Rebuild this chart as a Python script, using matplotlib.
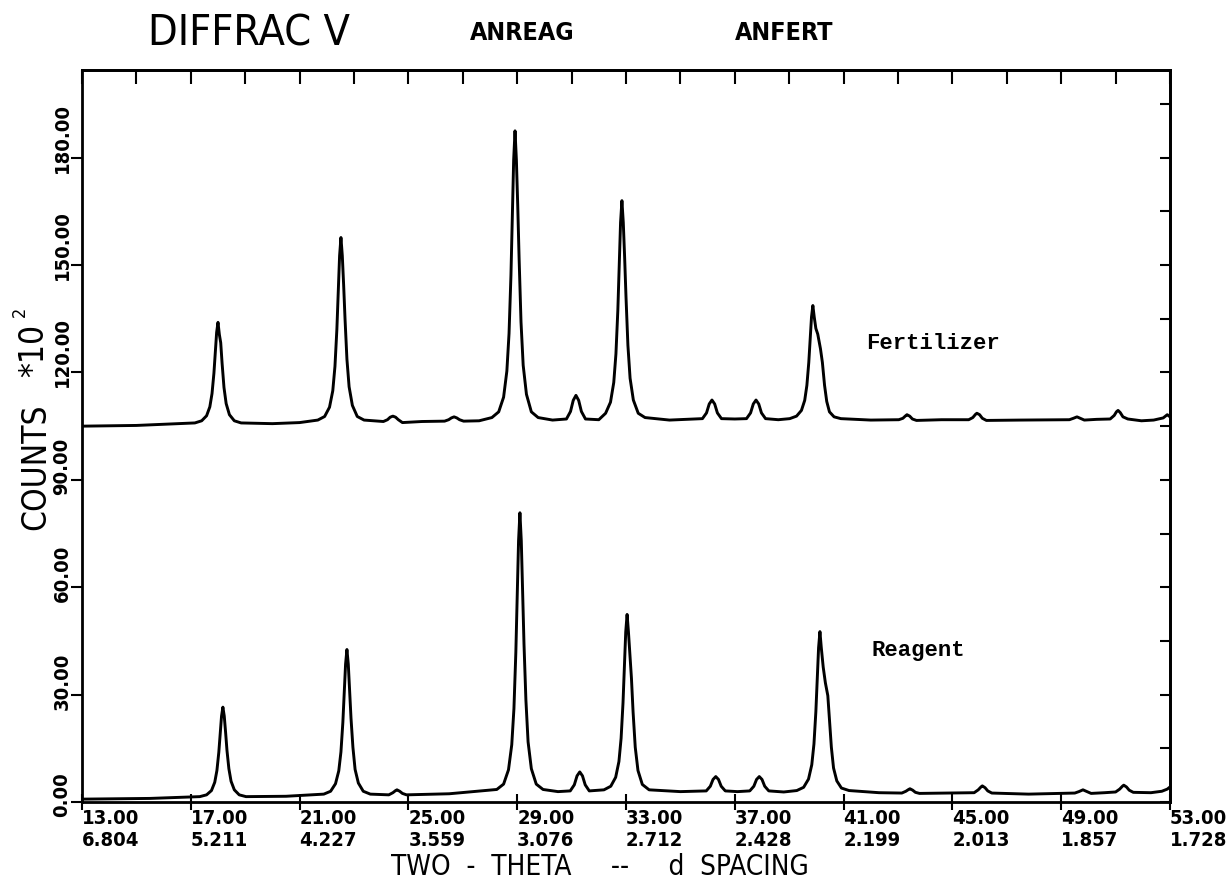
import matplotlib
matplotlib.use("Agg")
import matplotlib.pyplot as plt
from matplotlib import font_manager as fm
from matplotlib.transforms import ScaledTranslation, blended_transform_factory

# ---------------- data (counts in units of 10^2) ----------------
fert_two_theta = [
    13.0, 15.0, 17.15, 17.4, 17.58, 17.7, 17.78, 17.85, 17.9, 17.95, 18.0, 18.05, 18.1, 18.15, 18.22,
    18.3, 18.42, 18.6, 18.85, 20.0, 21.0, 21.67, 21.92, 22.1, 22.22, 22.3, 22.37, 22.42, 22.47, 22.52,
    22.57, 22.62, 22.67, 22.74, 22.82, 22.94, 23.12, 23.37, 24.08, 24.23, 24.33, 24.43, 24.53, 24.63,
    24.78, 25.5, 26.33, 26.48, 26.58, 26.68, 26.78, 26.88, 27.03, 27.6, 28.07, 28.32, 28.5, 28.62,
    28.7, 28.77, 28.82, 28.87, 28.92, 28.97, 29.02, 29.07, 29.14, 29.22, 29.34, 29.52, 29.77, 30.3,
    30.81, 30.96, 31.06, 31.16, 31.26, 31.36, 31.51, 32.0, 32.25, 32.43, 32.55, 32.63, 32.7, 32.75,
    32.8, 32.85, 32.9, 32.95, 33.0, 33.07, 33.15, 33.27, 33.45, 33.7, 34.6, 35.81, 35.96, 36.06,
    36.16, 36.26, 36.36, 36.51, 37.0, 37.43, 37.58, 37.68, 37.78, 37.88, 37.98, 38.13, 38.6, 39.02,
    39.27, 39.45, 39.57, 39.65, 39.72, 39.77, 39.82, 39.87, 39.92, 39.98, 40.05, 40.15, 40.22, 40.3,
    40.38, 40.48, 40.65, 40.9, 42.0, 43.03, 43.18, 43.28, 43.33, 43.43, 43.53, 43.68, 44.6, 45.6,
    45.75, 45.85, 45.9, 46.0, 46.1, 46.25, 47.5, 49.3, 49.45, 49.58, 49.7, 49.85, 50.3, 50.8, 50.95,
    51.03, 51.09, 51.17, 51.27, 51.45, 51.95, 52.4, 52.75, 52.9, 53.0]
fert_counts = [
    105.0, 105.2, 105.9, 106.5, 107.9, 110.4, 114.1, 119.8, 125.5, 131.2, 134.0, 130.6, 128.3, 122.6, 115.8,
    111.3, 108.2, 106.5, 105.9, 105.7, 106.0, 106.7, 107.7, 110.3, 114.9, 121.7, 132.0, 142.3, 152.6, 157.7,
    152.6, 144.3, 135.0, 123.7, 116.0, 110.8, 107.7, 106.7, 106.3, 106.8, 107.5, 107.8, 107.5, 106.8,
    106.0, 106.3, 106.4, 106.8, 107.3, 107.6, 107.3, 106.8, 106.4, 106.5, 107.4, 109.0, 113.1, 120.4,
    130.9, 147.1, 163.2, 179.4, 187.5, 179.4, 166.5, 151.9, 134.1, 122.0, 113.9, 109.0, 107.4, 106.7,
    107.0, 109.1, 112.2, 113.6, 112.2, 109.1, 107.0, 106.8, 108.6, 111.7, 117.2, 125.2, 137.4, 149.6,
    161.9, 168.0, 161.9, 152.1, 141.1, 127.6, 118.4, 112.3, 108.6, 107.4, 106.7, 107.1, 108.7, 111.2,
    112.3, 111.2, 108.7, 107.1, 107.0, 107.1, 108.7, 111.2, 112.3, 111.2, 108.7, 107.1, 106.8, 107.1,
    107.8, 109.4, 112.2, 116.4, 122.8, 129.1, 135.5, 138.7, 135.5, 132.3, 130.7, 126.6, 122.8, 116.4,
    111.9, 109.0, 107.6, 107.1, 106.7, 106.8, 107.2, 107.9, 108.2, 107.8, 107.0, 106.6, 106.8, 106.8,
    107.4, 108.3, 108.6, 108.2, 107.2, 106.6, 106.7, 106.8, 107.2, 107.6, 107.2, 106.7, 106.9, 107.0, 108.0,
    109.0, 109.4, 108.8, 107.6, 107.0, 106.5, 106.7, 107.3, 108.2, 107.6]

reag_two_theta = [
    13.0, 15.5, 17.33, 17.58, 17.76, 17.88, 17.96, 18.03, 18.08, 18.13, 18.18, 18.23, 18.28, 18.33, 18.4,
    18.48, 18.6, 18.78, 19.03, 20.5, 21.89, 22.14, 22.32, 22.44, 22.52, 22.59, 22.64, 22.69, 22.74, 22.79,
    22.84, 22.89, 22.96, 23.04, 23.16, 23.34, 23.6, 24.28, 24.43, 24.53, 24.58, 24.68, 24.78, 24.93,
    26.5, 28.25, 28.5, 28.68, 28.8, 28.88, 28.95, 29.0, 29.05, 29.1, 29.15, 29.2, 29.25, 29.32, 29.4,
    29.52, 29.7, 29.95, 30.5, 30.95, 31.1, 31.2, 31.3, 31.4, 31.5, 31.65, 32.19, 32.44, 32.62, 32.74,
    32.82, 32.89, 32.94, 32.99, 33.04, 33.09, 33.14, 33.2, 33.26, 33.34, 33.44, 33.6, 33.85, 35.0,
    35.95, 36.1, 36.2, 36.3, 36.4, 36.5, 36.65, 37.1, 37.55, 37.7, 37.8, 37.9, 38.0, 38.1, 38.25, 38.8,
    39.28, 39.53, 39.71, 39.83, 39.91, 39.98, 40.03, 40.08, 40.13, 40.18, 40.25, 40.33, 40.42, 40.48,
    40.55, 40.63, 40.75, 40.92, 41.2, 42.3, 43.14, 43.29, 43.39, 43.44, 43.54, 43.64, 43.79, 44.8,
    45.8, 45.95, 46.05, 46.1, 46.2, 46.3, 46.45, 47.8, 49.5, 49.65, 49.8, 49.95, 50.1, 50.6, 51.0,
    51.15, 51.25, 51.3, 51.4, 51.5, 51.65, 52.3, 52.7, 52.9, 53.0]
reag_counts = [
    0.8, 1.0, 1.5, 2.0, 3.2, 5.5, 8.8, 13.9, 18.9, 24.0, 26.5, 24.0, 19.4, 14.4, 9.3,
    5.8, 3.4, 2.0, 1.5, 1.6, 2.2, 3.0, 5.1, 8.7, 14.0, 22.2, 30.4, 38.5, 42.6, 38.5,
    31.2, 23.4, 15.3, 9.1, 5.3, 3.0, 2.2, 2.0, 2.6, 3.2, 3.4, 3.0, 2.4, 2.0,
    2.3, 3.5, 5.0, 9.0, 16.0, 26.1, 41.8, 57.4, 73.0, 80.8, 73.0, 58.9, 44.1, 28.5, 16.8,
    9.3, 5.0, 3.5, 2.9, 3.1, 4.8, 7.3, 8.4, 7.3, 4.8, 3.1, 3.4, 4.4, 6.9, 11.3,
    17.8, 27.7, 37.6, 47.5, 52.4, 47.5, 41.5, 34.6, 25.2, 15.3, 8.8, 4.9, 3.4, 2.9,
    3.1, 4.4, 6.3, 7.1, 6.3, 4.4, 3.1, 2.9, 3.1, 4.4, 6.3, 7.1, 6.3, 4.4, 3.1, 2.8,
    3.2, 4.1, 6.4, 10.4, 16.2, 25.2, 34.2, 43.1, 47.6, 43.1, 37.7, 33.3, 29.7, 23.0,
    15.3, 9.5, 5.9, 3.9, 3.2, 2.6, 2.5, 3.0, 3.5, 3.7, 3.3, 2.7, 2.4, 2.5,
    2.6, 3.4, 4.2, 4.5, 4.0, 3.1, 2.5, 2.2, 2.5, 2.9, 3.4, 2.9, 2.4, 2.6, 2.8,
    3.6, 4.4, 4.7, 4.2, 3.3, 2.7, 2.6, 3.0, 3.6, 4.2]

two_theta_ticks = [13, 17, 21, 25, 29, 33, 37, 41, 45, 49, 53]
d_spacing_labels = ["6.804", "5.211", "4.227", "3.559", "3.076", "2.712",
                    "2.428", "2.199", "2.013", "1.857", "1.728"]
top_ticks = [13, 15, 17, 19, 21, 23, 25, 27, 29, 31, 33, 35, 37, 39, 41, 43, 45, 47, 49, 51, 53]
count_ticks = [0, 30, 60, 90, 120, 150, 180]
right_ticks = [0, 15, 30, 45, 60, 75, 90, 105, 120, 135, 150, 165, 180, 195]

# ---------------- fonts ----------------
names = {f.name for f in fm.fontManager.ttflist}
if "Liberation Sans Narrow" in names:
    NARROW = dict(family="Liberation Sans Narrow")
else:
    NARROW = dict(family="DejaVu Sans", stretch="condensed")
MONO = dict(family="Liberation Mono")

W, H = 1230, 887
fig = plt.figure(figsize=(W / 100, H / 100), dpi=100)
ax = fig.add_axes([82 / W, 1 - 803 / H, (1170 - 82) / W, (803 - 71) / H])

ax.plot(fert_two_theta, fert_counts, color="black", lw=2.1, solid_joinstyle="round")
ax.plot(reag_two_theta, reag_counts, color="black", lw=2.1, solid_joinstyle="round")
ax.set_xlim(13, 53)
ax.set_ylim(0, 204.5)

for s in ax.spines.values():
    s.set_linewidth(2.0)

# bottom axis: 2-theta and d spacing, labels start at the tick
ax.set_xticks(two_theta_ticks)
ax.set_xticklabels([f"{t:.2f}\n{d}" for t, d in zip(two_theta_ticks, d_spacing_labels)],
                   ha="left", fontsize=14.5, fontweight="bold", linespacing=1.25, **NARROW)
ax.tick_params(axis="x", direction="inout", length=12, width=1.5, pad=-2)

# left axis
ax.set_yticks(count_ticks)
ax.set_yticklabels([])
ax.tick_params(axis="y", direction="out", length=8, width=1.5)
trans = blended_transform_factory(fig.transFigure, ax.transData) + \
    ScaledTranslation(0, -14 / 100, fig.dpi_scale_trans)
for v in count_ticks:
    ax.text(62 / W, v, f"{v:.2f}", transform=trans, rotation=90, rotation_mode="anchor",
            ha="left", va="center", fontsize=14.5, fontweight="bold", **NARROW)

# top axis
top = ax.secondary_xaxis("top")
top.set_xticks(top_ticks)
top.set_xticklabels([])
top.tick_params(direction="in", length=10, width=1.5)
top.spines["top"].set_linewidth(2.0)

# right axis
right = ax.secondary_yaxis("right")
right.set_yticks(right_ticks)
right.set_yticklabels([])
right.tick_params(direction="in", length=7, width=1.5)
right.spines["right"].set_linewidth(2.0)

# annotations
ax.text(41.82, 128.4, "Fertilizer", fontsize=16, fontweight="bold", va="center", ha="left", **MONO)
ax.text(42.04, 42.6, "Reagent", fontsize=16, fontweight="bold", va="center", ha="left", **MONO)

# titles
fig.text(148 / W, 1 - 45 / H, "DIFFRAC V", fontsize=31, va="baseline", ha="left", **NARROW)
fig.text(470 / W, 1 - 40 / H, "ANREAG", fontsize=18, fontweight="bold", va="baseline", ha="left", **NARROW)
fig.text(735 / W, 1 - 40 / H, "ANFERT", fontsize=18, fontweight="bold", va="baseline", ha="left", **NARROW)

# axis titles
fig.text(600 / W, 1 - 867 / H, "TWO  -  THETA     --     d  SPACING", fontsize=20,
         va="center", ha="center", **NARROW)
fig.text(36 / W, 1 - 467 / H, "COUNTS", fontsize=24, rotation=90, va="center", ha="center", **NARROW)
fig.text(34 / W, 1 - 350 / H, "*10", fontsize=24, rotation=90, va="center", ha="center", **NARROW)
fig.text(20 / W, 1 - 312 / H, "2", fontsize=13, rotation=90, va="center", ha="center", **NARROW)

fig.savefig("out.png", dpi=100)
